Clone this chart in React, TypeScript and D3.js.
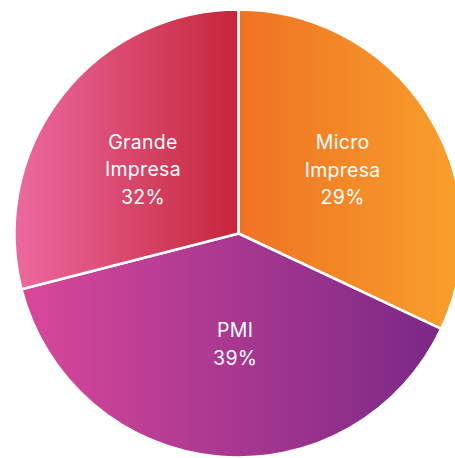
import React from "react";
import * as d3 from "d3";

const categories = ["Micro\nImpresa", "PMI", "Grande\nImpresa"];
const sliceValues = [32, 39, 29];
const labelPercents = ["29%", "39%", "32%"];
const gradStart = ["#EF7223", "#D8489A", "#EC6AA0"];
const gradEnd = ["#F8A02C", "#7A2886", "#C5263A"];

const W = 455;
const H = 458;
const cx = 238.5;
const cy = 233.5;
const R = 224;
// layout nudges for the label blocks (pixels)
const labelNudge: [number, number][] = [
  [2, 1],
  [8, -10],
  [0, 10],
];

export default function App() {
  const pie = d3.pie<number>().sort(null).value((d) => d)(sliceValues);
  const arc = d3.arc<d3.PieArcDatum<number>>().innerRadius(0).outerRadius(R);
  const labelArc = d3
    .arc<d3.PieArcDatum<number>>()
    .innerRadius(R * 0.54)
    .outerRadius(R * 0.54);
  const lineH = 27.5;
  return (
    <svg
      width={W}
      height={H}
      style={{ position: "absolute", left: 0, top: 0 }}
      fontFamily="Inter, 'Noto Sans', sans-serif"
    >
      <defs>
        {pie.map((p, i) => (
          <linearGradient key={i} id={`g${i}`} x1="0" x2="1" y1="0" y2="0">
            <stop offset="0" stopColor={gradStart[i]} />
            <stop offset="1" stopColor={gradEnd[i]} />
          </linearGradient>
        ))}
      </defs>
      <g transform={`translate(${cx},${cy})`}>
        {pie.map((p, i) => (
          <path
            key={i}
            d={arc(p) || ""}
            fill={`url(#g${i})`}
            stroke="#fff"
            strokeWidth={2.5}
            strokeLinejoin="round"
          />
        ))}
        {pie.map((p, i) => {
          const [cxl, cyl] = labelArc.centroid(p);
          const lx = cxl + labelNudge[i][0];
          const ly = cyl + labelNudge[i][1];
          const lines = [...categories[i].split("\n"), labelPercents[i]];
          const y0 = ly - ((lines.length - 1) * lineH) / 2;
          return (
            <text
              key={`t${i}`}
              x={lx}
              y={y0}
              textAnchor="middle"
              fill="#fff"
              fontSize={19.5}
              letterSpacing={0.3}
              dominantBaseline="central"
            >
              {lines.map((l, j) => (
                <tspan key={j} x={lx} y={y0 + j * lineH}>
                  {l}
                </tspan>
              ))}
            </text>
          );
        })}
      </g>
    </svg>
  );
}
